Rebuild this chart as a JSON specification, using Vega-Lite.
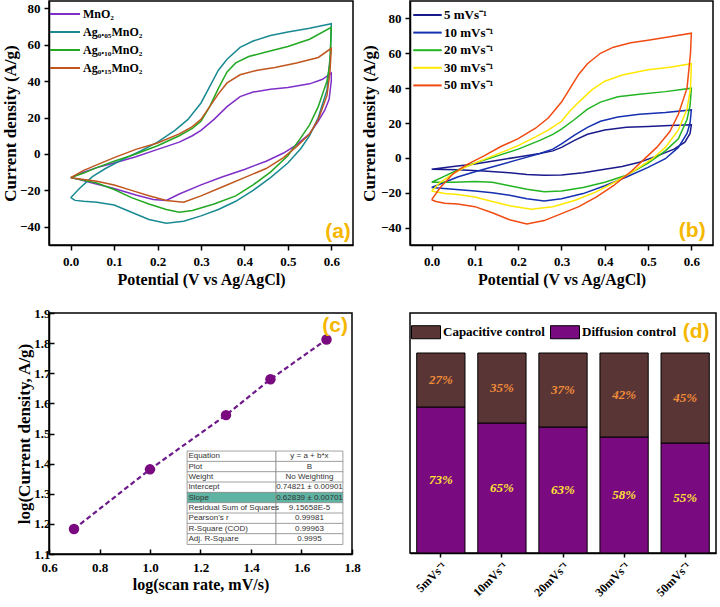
{
"$schema": "https://vega.github.io/schema/vega-lite/v6.json",
"padding": {"left": 0, "top": 0, "right": 0, "bottom": 0},
"background": "white",
"config": {
  "view": {"stroke": "black", "strokeWidth": 1.5},
  "axis": {"labelFont": "Liberation Serif", "labelFontWeight": "bold", "labelFontSize": 13, "labelColor": "black", "labelFlush": false, "labelOverlap": false,
           "titleFont": "Liberation Serif", "titleFontWeight": "bold", "titleColor": "black",
           "domainColor": "black", "domainWidth": 1.5, "tickColor": "black", "tickWidth": 1.5, "tickSize": 5, "grid": false},
  "axisY": {"labelOverlap": false},
  "legend": {"labelFont": "Liberation Serif", "labelFontWeight": "bold", "labelColor": "black", "padding": 0}
},
"datasets": {
"cvA": [
{"s":"MnO₂","i":0,"v":0,"c":-13},{"s":"MnO₂","i":1,"v":0.03,"c":-10},{"s":"MnO₂","i":2,"v":0.06,"c":-7.5},{"s":"MnO₂","i":3,"v":0.1,"c":-5},{"s":"MnO₂","i":4,"v":0.15,"c":-1.5},{"s":"MnO₂","i":5,"v":0.2,"c":2.5},{"s":"MnO₂","i":6,"v":0.25,"c":6.5},{"s":"MnO₂","i":7,"v":0.28,"c":10},{"s":"MnO₂","i":8,"v":0.3,"c":13},{"s":"MnO₂","i":9,"v":0.33,"c":19},{"s":"MnO₂","i":10,"v":0.36,"c":26},{"s":"MnO₂","i":11,"v":0.39,"c":31.5},{"s":"MnO₂","i":12,"v":0.42,"c":34},{"s":"MnO₂","i":13,"v":0.46,"c":35.5},{"s":"MnO₂","i":14,"v":0.5,"c":36.5},{"s":"MnO₂","i":15,"v":0.55,"c":38.5},{"s":"MnO₂","i":16,"v":0.58,"c":41},{"s":"MnO₂","i":17,"v":0.6,"c":44.5},
{"s":"MnO₂","i":18,"v":0.6,"c":40},{"s":"MnO₂","i":19,"v":0.595,"c":30},{"s":"MnO₂","i":20,"v":0.585,"c":24},{"s":"MnO₂","i":21,"v":0.57,"c":18},{"s":"MnO₂","i":22,"v":0.55,"c":11},{"s":"MnO₂","i":23,"v":0.52,"c":5},{"s":"MnO₂","i":24,"v":0.49,"c":0.5},{"s":"MnO₂","i":25,"v":0.45,"c":-4},{"s":"MnO₂","i":26,"v":0.4,"c":-8.5},{"s":"MnO₂","i":27,"v":0.35,"c":-12.5},{"s":"MnO₂","i":28,"v":0.3,"c":-17},{"s":"MnO₂","i":29,"v":0.25,"c":-22},{"s":"MnO₂","i":30,"v":0.22,"c":-25.5},{"s":"MnO₂","i":31,"v":0.19,"c":-25},{"s":"MnO₂","i":32,"v":0.15,"c":-22.5},{"s":"MnO₂","i":33,"v":0.1,"c":-19},{"s":"MnO₂","i":34,"v":0.05,"c":-16},{"s":"MnO₂","i":35,"v":0.02,"c":-14},{"s":"MnO₂","i":36,"v":0,"c":-13},

{"s":"Ag₀.₀₅MnO₂","i":0,"v":0,"c":-24},{"s":"Ag₀.₀₅MnO₂","i":1,"v":0.02,"c":-19},{"s":"Ag₀.₀₅MnO₂","i":2,"v":0.05,"c":-12.5},{"s":"Ag₀.₀₅MnO₂","i":3,"v":0.08,"c":-8},{"s":"Ag₀.₀₅MnO₂","i":4,"v":0.12,"c":-3},{"s":"Ag₀.₀₅MnO₂","i":5,"v":0.16,"c":1.5},{"s":"Ag₀.₀₅MnO₂","i":6,"v":0.2,"c":6.5},{"s":"Ag₀.₀₅MnO₂","i":7,"v":0.24,"c":13},{"s":"Ag₀.₀₅MnO₂","i":8,"v":0.27,"c":19},{"s":"Ag₀.₀₅MnO₂","i":9,"v":0.3,"c":28},{"s":"Ag₀.₀₅MnO₂","i":10,"v":0.32,"c":37},{"s":"Ag₀.₀₅MnO₂","i":11,"v":0.34,"c":46},{"s":"Ag₀.₀₅MnO₂","i":12,"v":0.36,"c":52},{"s":"Ag₀.₀₅MnO₂","i":13,"v":0.39,"c":58.5},{"s":"Ag₀.₀₅MnO₂","i":14,"v":0.42,"c":62},{"s":"Ag₀.₀₅MnO₂","i":15,"v":0.46,"c":65},{"s":"Ag₀.₀₅MnO₂","i":16,"v":0.5,"c":67},{"s":"Ag₀.₀₅MnO₂","i":17,"v":0.55,"c":69},{"s":"Ag₀.₀₅MnO₂","i":18,"v":0.6,"c":71.5},
{"s":"Ag₀.₀₅MnO₂","i":19,"v":0.598,"c":55},{"s":"Ag₀.₀₅MnO₂","i":20,"v":0.59,"c":35},{"s":"Ag₀.₀₅MnO₂","i":21,"v":0.57,"c":20},{"s":"Ag₀.₀₅MnO₂","i":22,"v":0.55,"c":10},{"s":"Ag₀.₀₅MnO₂","i":23,"v":0.53,"c":3},{"s":"Ag₀.₀₅MnO₂","i":24,"v":0.5,"c":-5},{"s":"Ag₀.₀₅MnO₂","i":25,"v":0.46,"c":-13},{"s":"Ag₀.₀₅MnO₂","i":26,"v":0.42,"c":-20},{"s":"Ag₀.₀₅MnO₂","i":27,"v":0.38,"c":-26},{"s":"Ag₀.₀₅MnO₂","i":28,"v":0.34,"c":-30.5},{"s":"Ag₀.₀₅MnO₂","i":29,"v":0.3,"c":-34},{"s":"Ag₀.₀₅MnO₂","i":30,"v":0.26,"c":-37},{"s":"Ag₀.₀₅MnO₂","i":31,"v":0.22,"c":-38},{"s":"Ag₀.₀₅MnO₂","i":32,"v":0.18,"c":-36},{"s":"Ag₀.₀₅MnO₂","i":33,"v":0.14,"c":-32},{"s":"Ag₀.₀₅MnO₂","i":34,"v":0.1,"c":-28},{"s":"Ag₀.₀₅MnO₂","i":35,"v":0.06,"c":-26.5},{"s":"Ag₀.₀₅MnO₂","i":36,"v":0.03,"c":-26},{"s":"Ag₀.₀₅MnO₂","i":37,"v":0.01,"c":-25.5},{"s":"Ag₀.₀₅MnO₂","i":38,"v":0,"c":-24},

{"s":"Ag₀.₁₀MnO₂","i":0,"v":0,"c":-13},{"s":"Ag₀.₁₀MnO₂","i":1,"v":0.03,"c":-10.5},{"s":"Ag₀.₁₀MnO₂","i":2,"v":0.06,"c":-7.5},{"s":"Ag₀.₁₀MnO₂","i":3,"v":0.1,"c":-4},{"s":"Ag₀.₁₀MnO₂","i":4,"v":0.15,"c":0},{"s":"Ag₀.₁₀MnO₂","i":5,"v":0.2,"c":4.5},{"s":"Ag₀.₁₀MnO₂","i":6,"v":0.25,"c":10},{"s":"Ag₀.₁₀MnO₂","i":7,"v":0.28,"c":14},{"s":"Ag₀.₁₀MnO₂","i":8,"v":0.3,"c":18},{"s":"Ag₀.₁₀MnO₂","i":9,"v":0.32,"c":26},{"s":"Ag₀.₁₀MnO₂","i":10,"v":0.34,"c":36},{"s":"Ag₀.₁₀MnO₂","i":11,"v":0.36,"c":45},{"s":"Ag₀.₁₀MnO₂","i":12,"v":0.38,"c":50},{"s":"Ag₀.₁₀MnO₂","i":13,"v":0.41,"c":53.5},{"s":"Ag₀.₁₀MnO₂","i":14,"v":0.45,"c":56},{"s":"Ag₀.₁₀MnO₂","i":15,"v":0.5,"c":59},{"s":"Ag₀.₁₀MnO₂","i":16,"v":0.55,"c":63},{"s":"Ag₀.₁₀MnO₂","i":17,"v":0.6,"c":69.5},
{"s":"Ag₀.₁₀MnO₂","i":18,"v":0.597,"c":50},{"s":"Ag₀.₁₀MnO₂","i":19,"v":0.59,"c":40},{"s":"Ag₀.₁₀MnO₂","i":20,"v":0.57,"c":26},{"s":"Ag₀.₁₀MnO₂","i":21,"v":0.55,"c":16},{"s":"Ag₀.₁₀MnO₂","i":22,"v":0.53,"c":9},{"s":"Ag₀.₁₀MnO₂","i":23,"v":0.5,"c":-1},{"s":"Ag₀.₁₀MnO₂","i":24,"v":0.46,"c":-10},{"s":"Ag₀.₁₀MnO₂","i":25,"v":0.42,"c":-17},{"s":"Ag₀.₁₀MnO₂","i":26,"v":0.38,"c":-23},{"s":"Ag₀.₁₀MnO₂","i":27,"v":0.33,"c":-27.5},{"s":"Ag₀.₁₀MnO₂","i":28,"v":0.28,"c":-31},{"s":"Ag₀.₁₀MnO₂","i":29,"v":0.25,"c":-32},{"s":"Ag₀.₁₀MnO₂","i":30,"v":0.22,"c":-30.5},{"s":"Ag₀.₁₀MnO₂","i":31,"v":0.18,"c":-27.5},{"s":"Ag₀.₁₀MnO₂","i":32,"v":0.14,"c":-24},{"s":"Ag₀.₁₀MnO₂","i":33,"v":0.1,"c":-19.5},{"s":"Ag₀.₁₀MnO₂","i":34,"v":0.06,"c":-16},{"s":"Ag₀.₁₀MnO₂","i":35,"v":0.03,"c":-14.5},{"s":"Ag₀.₁₀MnO₂","i":36,"v":0,"c":-13},

{"s":"Ag₀.₁₅MnO₂","i":0,"v":0,"c":-13},{"s":"Ag₀.₁₅MnO₂","i":1,"v":0.03,"c":-9},{"s":"Ag₀.₁₅MnO₂","i":2,"v":0.06,"c":-6},{"s":"Ag₀.₁₅MnO₂","i":3,"v":0.1,"c":-2},{"s":"Ag₀.₁₅MnO₂","i":4,"v":0.15,"c":2.5},{"s":"Ag₀.₁₅MnO₂","i":5,"v":0.2,"c":6},{"s":"Ag₀.₁₅MnO₂","i":6,"v":0.25,"c":11},{"s":"Ag₀.₁₅MnO₂","i":7,"v":0.28,"c":15},{"s":"Ag₀.₁₅MnO₂","i":8,"v":0.3,"c":19},{"s":"Ag₀.₁₅MnO₂","i":9,"v":0.32,"c":26},{"s":"Ag₀.₁₅MnO₂","i":10,"v":0.34,"c":33},{"s":"Ag₀.₁₅MnO₂","i":11,"v":0.36,"c":39},{"s":"Ag₀.₁₅MnO₂","i":12,"v":0.39,"c":43.5},{"s":"Ag₀.₁₅MnO₂","i":13,"v":0.43,"c":46},{"s":"Ag₀.₁₅MnO₂","i":14,"v":0.47,"c":47.5},{"s":"Ag₀.₁₅MnO₂","i":15,"v":0.52,"c":50},{"s":"Ag₀.₁₅MnO₂","i":16,"v":0.57,"c":53},{"s":"Ag₀.₁₅MnO₂","i":17,"v":0.6,"c":58},
{"s":"Ag₀.₁₅MnO₂","i":18,"v":0.597,"c":45},{"s":"Ag₀.₁₅MnO₂","i":19,"v":0.59,"c":32},{"s":"Ag₀.₁₅MnO₂","i":20,"v":0.57,"c":19},{"s":"Ag₀.₁₅MnO₂","i":21,"v":0.55,"c":11},{"s":"Ag₀.₁₅MnO₂","i":22,"v":0.52,"c":4},{"s":"Ag₀.₁₅MnO₂","i":23,"v":0.49,"c":-2},{"s":"Ag₀.₁₅MnO₂","i":24,"v":0.45,"c":-8},{"s":"Ag₀.₁₅MnO₂","i":25,"v":0.4,"c":-13},{"s":"Ag₀.₁₅MnO₂","i":26,"v":0.35,"c":-18},{"s":"Ag₀.₁₅MnO₂","i":27,"v":0.3,"c":-23},{"s":"Ag₀.₁₅MnO₂","i":28,"v":0.26,"c":-26.5},{"s":"Ag₀.₁₅MnO₂","i":29,"v":0.22,"c":-25.5},{"s":"Ag₀.₁₅MnO₂","i":30,"v":0.18,"c":-23},{"s":"Ag₀.₁₅MnO₂","i":31,"v":0.14,"c":-20},{"s":"Ag₀.₁₅MnO₂","i":32,"v":0.1,"c":-17},{"s":"Ag₀.₁₅MnO₂","i":33,"v":0.06,"c":-15},{"s":"Ag₀.₁₅MnO₂","i":34,"v":0.03,"c":-14},{"s":"Ag₀.₁₅MnO₂","i":35,"v":0,"c":-13}
],
"cvB": [
{"s":"5 mVs⁻¹","i":0,"v":0,"c":-6.5},{"s":"5 mVs⁻¹","i":1,"v":0.05,"c":-5},{"s":"5 mVs⁻¹","i":2,"v":0.1,"c":-3.5},{"s":"5 mVs⁻¹","i":3,"v":0.15,"c":-1.5},{"s":"5 mVs⁻¹","i":4,"v":0.2,"c":0.5},{"s":"5 mVs⁻¹","i":5,"v":0.25,"c":2.5},{"s":"5 mVs⁻¹","i":6,"v":0.28,"c":4},{"s":"5 mVs⁻¹","i":7,"v":0.3,"c":6},{"s":"5 mVs⁻¹","i":8,"v":0.33,"c":10},{"s":"5 mVs⁻¹","i":9,"v":0.36,"c":13.5},{"s":"5 mVs⁻¹","i":10,"v":0.4,"c":16},{"s":"5 mVs⁻¹","i":11,"v":0.45,"c":17.5},{"s":"5 mVs⁻¹","i":12,"v":0.5,"c":18},{"s":"5 mVs⁻¹","i":13,"v":0.55,"c":18.5},{"s":"5 mVs⁻¹","i":14,"v":0.6,"c":19},
{"s":"5 mVs⁻¹","i":15,"v":0.597,"c":14},{"s":"5 mVs⁻¹","i":16,"v":0.585,"c":9},{"s":"5 mVs⁻¹","i":17,"v":0.56,"c":5},{"s":"5 mVs⁻¹","i":18,"v":0.52,"c":1},{"s":"5 mVs⁻¹","i":19,"v":0.48,"c":-2.5},{"s":"5 mVs⁻¹","i":20,"v":0.44,"c":-5},{"s":"5 mVs⁻¹","i":21,"v":0.4,"c":-6.5},{"s":"5 mVs⁻¹","i":22,"v":0.35,"c":-8.5},{"s":"5 mVs⁻¹","i":23,"v":0.3,"c":-9.8},{"s":"5 mVs⁻¹","i":24,"v":0.26,"c":-10},{"s":"5 mVs⁻¹","i":25,"v":0.22,"c":-9.5},{"s":"5 mVs⁻¹","i":26,"v":0.18,"c":-8.5},{"s":"5 mVs⁻¹","i":27,"v":0.12,"c":-7.5},{"s":"5 mVs⁻¹","i":28,"v":0.06,"c":-6.8},{"s":"5 mVs⁻¹","i":29,"v":0,"c":-6.5},

{"s":"10 mVs⁻¹","i":0,"v":0,"c":-17},{"s":"10 mVs⁻¹","i":1,"v":0.03,"c":-14},{"s":"10 mVs⁻¹","i":2,"v":0.06,"c":-11},{"s":"10 mVs⁻¹","i":3,"v":0.1,"c":-8},{"s":"10 mVs⁻¹","i":4,"v":0.15,"c":-4.5},{"s":"10 mVs⁻¹","i":5,"v":0.2,"c":-1},{"s":"10 mVs⁻¹","i":6,"v":0.25,"c":2.5},{"s":"10 mVs⁻¹","i":7,"v":0.28,"c":5},{"s":"10 mVs⁻¹","i":8,"v":0.3,"c":8},{"s":"10 mVs⁻¹","i":9,"v":0.33,"c":13},{"s":"10 mVs⁻¹","i":10,"v":0.36,"c":17.5},{"s":"10 mVs⁻¹","i":11,"v":0.39,"c":21},{"s":"10 mVs⁻¹","i":12,"v":0.43,"c":23.5},{"s":"10 mVs⁻¹","i":13,"v":0.48,"c":25},{"s":"10 mVs⁻¹","i":14,"v":0.54,"c":26},{"s":"10 mVs⁻¹","i":15,"v":0.6,"c":27.5},
{"s":"10 mVs⁻¹","i":16,"v":0.597,"c":20},{"s":"10 mVs⁻¹","i":17,"v":0.59,"c":14},{"s":"10 mVs⁻¹","i":18,"v":0.57,"c":6},{"s":"10 mVs⁻¹","i":19,"v":0.54,"c":-0.5},{"s":"10 mVs⁻¹","i":20,"v":0.5,"c":-5.5},{"s":"10 mVs⁻¹","i":21,"v":0.45,"c":-11},{"s":"10 mVs⁻¹","i":22,"v":0.4,"c":-16},{"s":"10 mVs⁻¹","i":23,"v":0.35,"c":-20.5},{"s":"10 mVs⁻¹","i":24,"v":0.3,"c":-23.5},{"s":"10 mVs⁻¹","i":25,"v":0.26,"c":-24.8},{"s":"10 mVs⁻¹","i":26,"v":0.22,"c":-23.5},{"s":"10 mVs⁻¹","i":27,"v":0.18,"c":-21.5},{"s":"10 mVs⁻¹","i":28,"v":0.14,"c":-20},{"s":"10 mVs⁻¹","i":29,"v":0.1,"c":-19},{"s":"10 mVs⁻¹","i":30,"v":0.05,"c":-18},{"s":"10 mVs⁻¹","i":31,"v":0,"c":-17},

{"s":"20 mVs⁻¹","i":0,"v":0,"c":-14},{"s":"20 mVs⁻¹","i":1,"v":0.03,"c":-10.5},{"s":"20 mVs⁻¹","i":2,"v":0.06,"c":-7},{"s":"20 mVs⁻¹","i":3,"v":0.1,"c":-3},{"s":"20 mVs⁻¹","i":4,"v":0.15,"c":1},{"s":"20 mVs⁻¹","i":5,"v":0.2,"c":5},{"s":"20 mVs⁻¹","i":6,"v":0.25,"c":10},{"s":"20 mVs⁻¹","i":7,"v":0.28,"c":13.5},{"s":"20 mVs⁻¹","i":8,"v":0.3,"c":16.5},{"s":"20 mVs⁻¹","i":9,"v":0.33,"c":22},{"s":"20 mVs⁻¹","i":10,"v":0.36,"c":28},{"s":"20 mVs⁻¹","i":11,"v":0.39,"c":32},{"s":"20 mVs⁻¹","i":12,"v":0.43,"c":35},{"s":"20 mVs⁻¹","i":13,"v":0.48,"c":36.5},{"s":"20 mVs⁻¹","i":14,"v":0.54,"c":38},{"s":"20 mVs⁻¹","i":15,"v":0.6,"c":40},
{"s":"20 mVs⁻¹","i":16,"v":0.597,"c":30},{"s":"20 mVs⁻¹","i":17,"v":0.59,"c":22},{"s":"20 mVs⁻¹","i":18,"v":0.57,"c":11},{"s":"20 mVs⁻¹","i":19,"v":0.54,"c":4},{"s":"20 mVs⁻¹","i":20,"v":0.5,"c":-3},{"s":"20 mVs⁻¹","i":21,"v":0.45,"c":-10},{"s":"20 mVs⁻¹","i":22,"v":0.4,"c":-14},{"s":"20 mVs⁻¹","i":23,"v":0.35,"c":-17},{"s":"20 mVs⁻¹","i":24,"v":0.3,"c":-19},{"s":"20 mVs⁻¹","i":25,"v":0.26,"c":-19.5},{"s":"20 mVs⁻¹","i":26,"v":0.22,"c":-18},{"s":"20 mVs⁻¹","i":27,"v":0.18,"c":-16},{"s":"20 mVs⁻¹","i":28,"v":0.14,"c":-14},{"s":"20 mVs⁻¹","i":29,"v":0.1,"c":-13.5},{"s":"20 mVs⁻¹","i":30,"v":0.05,"c":-14},{"s":"20 mVs⁻¹","i":31,"v":0,"c":-14},

{"s":"30 mVs⁻¹","i":0,"v":0,"c":-19},{"s":"30 mVs⁻¹","i":1,"v":0.02,"c":-14},{"s":"30 mVs⁻¹","i":2,"v":0.05,"c":-9},{"s":"30 mVs⁻¹","i":3,"v":0.08,"c":-5},{"s":"30 mVs⁻¹","i":4,"v":0.12,"c":-1},{"s":"30 mVs⁻¹","i":5,"v":0.16,"c":3},{"s":"30 mVs⁻¹","i":6,"v":0.2,"c":7},{"s":"30 mVs⁻¹","i":7,"v":0.24,"c":12},{"s":"30 mVs⁻¹","i":8,"v":0.27,"c":16},{"s":"30 mVs⁻¹","i":9,"v":0.3,"c":21},{"s":"30 mVs⁻¹","i":10,"v":0.32,"c":27},{"s":"30 mVs⁻¹","i":11,"v":0.34,"c":32},{"s":"30 mVs⁻¹","i":12,"v":0.37,"c":39},{"s":"30 mVs⁻¹","i":13,"v":0.4,"c":44},{"s":"30 mVs⁻¹","i":14,"v":0.44,"c":47.5},{"s":"30 mVs⁻¹","i":15,"v":0.5,"c":50.5},{"s":"30 mVs⁻¹","i":16,"v":0.55,"c":52},{"s":"30 mVs⁻¹","i":17,"v":0.6,"c":54},
{"s":"30 mVs⁻¹","i":18,"v":0.598,"c":40},{"s":"30 mVs⁻¹","i":19,"v":0.59,"c":28},{"s":"30 mVs⁻¹","i":20,"v":0.57,"c":16},{"s":"30 mVs⁻¹","i":21,"v":0.54,"c":6},{"s":"30 mVs⁻¹","i":22,"v":0.51,"c":-0.5},{"s":"30 mVs⁻¹","i":23,"v":0.47,"c":-7},{"s":"30 mVs⁻¹","i":24,"v":0.43,"c":-13},{"s":"30 mVs⁻¹","i":25,"v":0.38,"c":-19.5},{"s":"30 mVs⁻¹","i":26,"v":0.33,"c":-24.5},{"s":"30 mVs⁻¹","i":27,"v":0.28,"c":-28},{"s":"30 mVs⁻¹","i":28,"v":0.23,"c":-29.5},{"s":"30 mVs⁻¹","i":29,"v":0.18,"c":-27.5},{"s":"30 mVs⁻¹","i":30,"v":0.14,"c":-25},{"s":"30 mVs⁻¹","i":31,"v":0.1,"c":-22.5},{"s":"30 mVs⁻¹","i":32,"v":0.06,"c":-21},{"s":"30 mVs⁻¹","i":33,"v":0.03,"c":-20.5},{"s":"30 mVs⁻¹","i":34,"v":0,"c":-19},

{"s":"50 mVs⁻¹","i":0,"v":0,"c":-24},{"s":"50 mVs⁻¹","i":1,"v":0.02,"c":-17},{"s":"50 mVs⁻¹","i":2,"v":0.05,"c":-9},{"s":"50 mVs⁻¹","i":3,"v":0.08,"c":-4},{"s":"50 mVs⁻¹","i":4,"v":0.12,"c":1},{"s":"50 mVs⁻¹","i":5,"v":0.16,"c":6.5},{"s":"50 mVs⁻¹","i":6,"v":0.2,"c":11},{"s":"50 mVs⁻¹","i":7,"v":0.24,"c":17},{"s":"50 mVs⁻¹","i":8,"v":0.27,"c":23},{"s":"50 mVs⁻¹","i":9,"v":0.3,"c":32},{"s":"50 mVs⁻¹","i":10,"v":0.32,"c":40},{"s":"50 mVs⁻¹","i":11,"v":0.34,"c":48},{"s":"50 mVs⁻¹","i":12,"v":0.36,"c":54},{"s":"50 mVs⁻¹","i":13,"v":0.39,"c":60},{"s":"50 mVs⁻¹","i":14,"v":0.42,"c":63.5},{"s":"50 mVs⁻¹","i":15,"v":0.46,"c":66},{"s":"50 mVs⁻¹","i":16,"v":0.5,"c":67.5},{"s":"50 mVs⁻¹","i":17,"v":0.55,"c":69.5},{"s":"50 mVs⁻¹","i":18,"v":0.6,"c":71.5},
{"s":"50 mVs⁻¹","i":19,"v":0.598,"c":60},{"s":"50 mVs⁻¹","i":20,"v":0.59,"c":40},{"s":"50 mVs⁻¹","i":21,"v":0.57,"c":25},{"s":"50 mVs⁻¹","i":22,"v":0.55,"c":15},{"s":"50 mVs⁻¹","i":23,"v":0.52,"c":6},{"s":"50 mVs⁻¹","i":24,"v":0.49,"c":-1},{"s":"50 mVs⁻¹","i":25,"v":0.46,"c":-8},{"s":"50 mVs⁻¹","i":26,"v":0.42,"c":-16},{"s":"50 mVs⁻¹","i":27,"v":0.38,"c":-22.5},{"s":"50 mVs⁻¹","i":28,"v":0.34,"c":-28},{"s":"50 mVs⁻¹","i":29,"v":0.3,"c":-32},{"s":"50 mVs⁻¹","i":30,"v":0.26,"c":-36},{"s":"50 mVs⁻¹","i":31,"v":0.22,"c":-38},{"s":"50 mVs⁻¹","i":32,"v":0.18,"c":-35.5},{"s":"50 mVs⁻¹","i":33,"v":0.14,"c":-31.5},{"s":"50 mVs⁻¹","i":34,"v":0.1,"c":-28},{"s":"50 mVs⁻¹","i":35,"v":0.06,"c":-26.5},{"s":"50 mVs⁻¹","i":36,"v":0.03,"c":-26},{"s":"50 mVs⁻¹","i":37,"v":0.01,"c":-25},{"s":"50 mVs⁻¹","i":38,"v":0,"c":-24}
],
"logC": [
{"lx":0.699,"ly":1.183},{"lx":1.0,"ly":1.381},{"lx":1.301,"ly":1.561},{"lx":1.477,"ly":1.68},{"lx":1.699,"ly":1.812}
],
"fitTable": [
{"row":0,"k":"Equation","val":"y = a + b*x"},
{"row":1,"k":"Plot","val":"B"},
{"row":2,"k":"Weight","val":"No Weighting"},
{"row":3,"k":"Intercept","val":"0.74821 ± 0.00901"},
{"row":4,"k":"Slope","val":"0.62839 ± 0.00701"},
{"row":5,"k":"Residual Sum of Squares","val":"9.15658E-5"},
{"row":6,"k":"Pearson's r","val":"0.99981"},
{"row":7,"k":"R-Square (COD)","val":"0.99963"},
{"row":8,"k":"Adj. R-Square","val":"0.9995"}
],
"contrib": [
{"rate":"5mVs⁻¹","type":"Diffusion control","pct":73,"label":"73%"},
{"rate":"5mVs⁻¹","type":"Capacitive control","pct":27,"label":"27%"},
{"rate":"10mVs⁻¹","type":"Diffusion control","pct":65,"label":"65%"},
{"rate":"10mVs⁻¹","type":"Capacitive control","pct":35,"label":"35%"},
{"rate":"20mVs⁻¹","type":"Diffusion control","pct":63,"label":"63%"},
{"rate":"20mVs⁻¹","type":"Capacitive control","pct":37,"label":"37%"},
{"rate":"30mVs⁻¹","type":"Diffusion control","pct":58,"label":"58%"},
{"rate":"30mVs⁻¹","type":"Capacitive control","pct":42,"label":"42%"},
{"rate":"50mVs⁻¹","type":"Diffusion control","pct":55,"label":"55%"},
{"rate":"50mVs⁻¹","type":"Capacitive control","pct":45,"label":"45%"}
]
},
"columns": 2,
"bounds": "flush",
"spacing": {"row": 68, "column": 57},
"resolve": {"scale": {"color": "independent"}, "legend": {"color": "independent"}},
"concat": [
{
  "width": 304, "height": 244,
  "layer": [
    {
      "data": {"name": "cvA"},
      "mark": {"type": "line", "strokeWidth": 1.5},
      "encoding": {
        "x": {"field": "v", "type": "quantitative", "scale": {"domain": [-0.05, 0.65], "nice": false, "zero": false},
              "axis": {"values": [0, 0.1, 0.2, 0.3, 0.4, 0.5, 0.6], "format": ".1f", "title": "Potential (V vs Ag/AgCl)", "titleFontSize": 16, "labelPadding": 5, "titlePadding": 3, "labelOverlap": false}},
        "y": {"field": "c", "type": "quantitative", "scale": {"domain": [-50, 84], "nice": false, "zero": false},
              "axis": {"values": [-40, -20, 0, 20, 40, 60, 80], "title": "Current density (A/g)", "titleFontSize": 17, "labelPadding": 4, "titlePadding": 0, "labelOverlap": false}},
        "color": {"field": "s", "type": "nominal",
                  "scale": {"domain": ["MnO₂", "Ag₀.₀₅MnO₂", "Ag₀.₁₀MnO₂", "Ag₀.₁₅MnO₂"], "range": ["#7f2fc8", "#1a8a92", "#22a822", "#c0561e"]},
                  "legend": {"title": null, "orient": "none", "legendX": 10, "legendY": 7, "symbolType": "M-3,0H3", "symbolSize": 100, "symbolStrokeWidth": 2, "labelOffset": 12, "labelFontSize": 12, "rowPadding": 6}},
        "order": {"field": "i", "type": "quantitative"}
      }
    },
    {
      "data": {"values": [{}]},
      "mark": {"type": "text", "text": "(a)", "align": "right", "baseline": "middle", "font": "Liberation Sans", "fontWeight": "bold", "fontSize": 21, "color": "#f5b700"},
      "encoding": {"x": {"datum": 0.645, "type": "quantitative"}, "y": {"datum": -43, "type": "quantitative"}}
    }
  ]
},
{
  "width": 303, "height": 244,
  "layer": [
    {
      "data": {"name": "cvB"},
      "mark": {"type": "line", "strokeWidth": 1.5},
      "encoding": {
        "x": {"field": "v", "type": "quantitative", "scale": {"domain": [-0.05, 0.65], "nice": false, "zero": false},
              "axis": {"values": [0, 0.1, 0.2, 0.3, 0.4, 0.5, 0.6], "format": ".1f", "title": "Potential (V vs Ag/AgCl)", "titleFontSize": 16, "labelPadding": 5, "titlePadding": 3, "labelOverlap": false}},
        "y": {"field": "c", "type": "quantitative", "scale": {"domain": [-50, 90], "nice": false, "zero": false},
              "axis": {"values": [-40, -20, 0, 20, 40, 60, 80], "title": "Current density (A/g)", "titleFontSize": 17, "labelPadding": 4, "titlePadding": 2, "labelOverlap": false}},
        "color": {"field": "s", "type": "nominal",
                  "scale": {"domain": ["5 mVs⁻¹", "10 mVs⁻¹", "20 mVs⁻¹", "30 mVs⁻¹", "50 mVs⁻¹"], "range": ["#1a1a8c", "#1530b0", "#22b422", "#ffe800", "#f04b12"]},
                  "legend": {"title": null, "orient": "none", "legendX": 11, "legendY": 7.5, "symbolType": "M-3,0H3", "symbolSize": 90, "symbolStrokeWidth": 2, "labelOffset": 10, "labelFontSize": 13, "rowPadding": 3.6}},
        "order": {"field": "i", "type": "quantitative"}
      }
    },
    {
      "data": {"values": [{}]},
      "mark": {"type": "text", "text": "(b)", "align": "right", "baseline": "middle", "font": "Liberation Sans", "fontWeight": "bold", "fontSize": 21, "color": "#f5b700"},
      "encoding": {"x": {"datum": 0.633, "type": "quantitative"}, "y": {"datum": -42, "type": "quantitative"}}
    }
  ]
},
{
  "width": 303, "height": 241,
  "resolve": {"scale": {"y": "independent"}},
  "layer": [
    {
      "layer": [
        {
          "data": {"name": "logC"},
          "mark": {"type": "line", "strokeDash": [5, 3], "strokeWidth": 2.2, "color": "#6e1a8a"},
          "encoding": {
            "x": {"field": "lx", "type": "quantitative", "scale": {"domain": [0.6, 1.8], "nice": false, "zero": false},
                  "axis": {"values": [0.6, 0.8, 1.0, 1.2, 1.4, 1.6, 1.8], "format": ".1f", "title": "log(scan rate, mV/s)", "titleFontSize": 16, "tickSize": -5, "labelPadding": 12, "titlePadding": 2, "labelOverlap": false}},
            "y": {"field": "ly", "type": "quantitative", "scale": {"domain": [1.1, 1.9], "nice": false, "zero": false},
                  "axis": {"values": [1.1, 1.2, 1.3, 1.4, 1.5, 1.6, 1.7, 1.8, 1.9], "format": ".1f", "title": "log(Current density, A/g)", "titleFontSize": 17, "tickSize": -5, "labelPadding": 4, "titlePadding": 0, "labelOverlap": false, "tickCount": 9}}
          }
        },
        {
          "data": {"name": "logC"},
          "mark": {"type": "circle", "size": 110, "color": "#7a0a80", "opacity": 1},
          "encoding": {
            "x": {"field": "lx", "type": "quantitative"},
            "y": {"field": "ly", "type": "quantitative",
                  "axis": {"values": [1.1, 1.2, 1.3, 1.4, 1.5, 1.6, 1.7, 1.8, 1.9], "format": ".1f", "title": "log(Current density, A/g)", "titleFontSize": 17, "tickSize": -5, "labelPadding": 4, "titlePadding": 0, "labelOverlap": false, "tickCount": 9}}
          }
        },
        {
          "data": {"values": [{}]},
          "mark": {"type": "text", "text": "(c)", "align": "right", "baseline": "middle", "font": "Liberation Sans", "fontWeight": "bold", "fontSize": 21, "color": "#f5b700"},
          "encoding": {"x": {"datum": 1.784, "type": "quantitative"}, "y": {"datum": 1.857, "type": "quantitative"}}
        }
      ]
    },
    {
      "data": {"name": "fitTable"},
      "layer": [
        {
          "mark": {"type": "bar", "orient": "horizontal", "size": 10.8, "stroke": "#8c8c8c", "strokeWidth": 0.8},
          "encoding": {
            "x": {"datum": 1.147, "type": "quantitative"},
            "x2": {"datum": 1.499},
            "y": {"field": "row", "type": "quantitative", "axis": null,
                  "scale": {"domain": [-13.4, 8.96], "reverse": true, "nice": false, "zero": false}},
            "fill": {"condition": {"test": "datum.k === 'Slope'", "value": "#5fb3a2"}, "value": "white"}
          }
        },
        {
          "mark": {"type": "bar", "orient": "horizontal", "size": 10.8, "stroke": "#8c8c8c", "strokeWidth": 0.8},
          "encoding": {
            "x": {"datum": 1.499, "type": "quantitative"},
            "x2": {"datum": 1.764},
            "y": {"field": "row", "type": "quantitative", "axis": null},
            "fill": {"condition": {"test": "datum.k === 'Slope'", "value": "#5fb3a2"}, "value": "white"}
          }
        },
        {
          "mark": {"type": "text", "align": "left", "baseline": "middle", "font": "Liberation Sans", "fontSize": 8, "color": "#333333"},
          "encoding": {
            "x": {"datum": 1.152, "type": "quantitative"},
            "y": {"field": "row", "type": "quantitative", "axis": null},
            "text": {"field": "k"}
          }
        },
        {
          "mark": {"type": "text", "align": "center", "baseline": "middle", "font": "Liberation Sans", "fontSize": 8, "color": "#333333"},
          "encoding": {
            "x": {"datum": 1.6315, "type": "quantitative"},
            "y": {"field": "row", "type": "quantitative", "axis": null},
            "text": {"field": "val"}
          }
        }
      ]
    }
  ]
},
{
  "width": 306, "height": 240,
  "layer": [
    {
      "data": {"name": "contrib"},
      "mark": {"type": "bar", "stroke": "black", "strokeWidth": 1},
      "encoding": {
        "x": {"field": "rate", "type": "ordinal", "sort": ["5mVs⁻¹", "10mVs⁻¹", "20mVs⁻¹", "30mVs⁻¹", "50mVs⁻¹"],
              "scale": {"paddingInner": 0.21, "paddingOuter": 0.11},
              "axis": {"title": null, "labelAngle": -45, "labelFontSize": 12, "tickSize": 4, "labelPadding": 3}},
        "y": {"field": "pct", "type": "quantitative", "stack": "zero", "scale": {"domain": [0, 120], "nice": false}, "axis": null},
        "color": {"field": "type", "type": "nominal",
                  "scale": {"domain": ["Capacitive control", "Diffusion control"], "range": ["#5a3535", "#7a0a80"]},
                  "legend": {"title": null, "orient": "none", "legendX": 1, "legendY": 4, "direction": "horizontal",
                             "symbolType": "M-1,-0.45H1V0.45H-1Z", "symbolSize": 841, "symbolStrokeColor": "black", "symbolStrokeWidth": 1, "symbolOpacity": 1,
                             "labelFontSize": 13, "labelOffset": 2, "columnPadding": 3}},
        "order": {"field": "type", "sort": "descending"}
      }
    },
    {
      "data": {"name": "contrib"},
      "transform": [
        {"stack": "pct", "groupby": ["rate"], "sort": [{"field": "type", "order": "descending"}], "as": ["s0", "s1"]},
        {"fold": ["s0", "s1"], "as": ["edge", "pos"]},
        {"aggregate": [{"op": "mean", "field": "pos", "as": "mid"}], "groupby": ["rate", "type", "label"]}
      ],
      "mark": {"type": "text", "font": "Liberation Serif", "fontWeight": "bold", "fontStyle": "italic", "fontSize": 13, "baseline": "middle"},
      "encoding": {
        "x": {"field": "rate", "type": "ordinal", "sort": ["5mVs⁻¹", "10mVs⁻¹", "20mVs⁻¹", "30mVs⁻¹", "50mVs⁻¹"]},
        "y": {"field": "mid", "type": "quantitative"},
        "text": {"field": "label"},
        "color": {"condition": {"test": "datum.type === 'Diffusion control'", "value": "#ffe533"}, "value": "#f08c3a"}
      }
    },
    {
      "data": {"values": [{}]},
      "mark": {"type": "text", "text": "(d)", "align": "center", "baseline": "middle", "font": "Liberation Sans", "fontWeight": "bold", "fontSize": 21, "color": "#f5b700", "dx": 11},
      "encoding": {"x": {"datum": "50mVs⁻¹", "type": "ordinal"}, "y": {"datum": 110.5, "type": "quantitative"}}
    }
  ]
}
]
}
